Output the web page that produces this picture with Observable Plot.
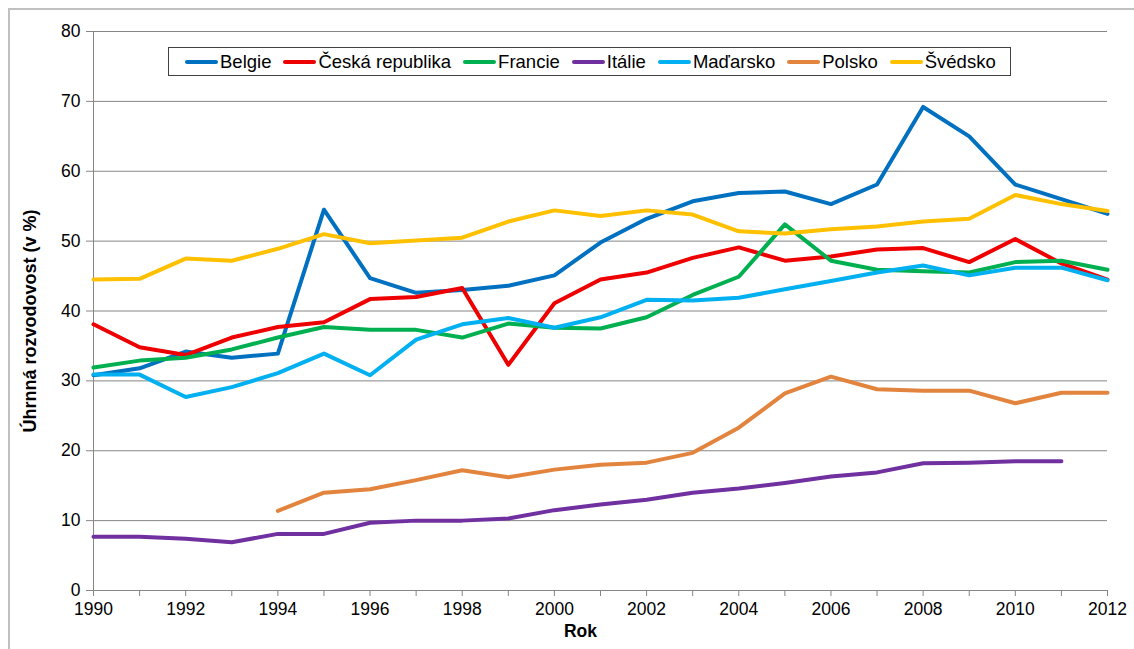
<!DOCTYPE html>
<html>
<head>
<meta charset="utf-8">
<script src="https://cdn.jsdelivr.net/npm/d3@7"></script>
<script src="https://cdn.jsdelivr.net/npm/@observablehq/plot@0.6"></script>
<style>
  html, body { margin: 0; padding: 0; background: #fff; }
  #wrap { position: relative; width: 1134px; height: 649px; overflow: hidden; font-family: "Liberation Sans", Arial, sans-serif; }
  #frame { position: absolute; left: 8px; top: 8px; width: 1200px; height: 700px; border-left: 2px solid #c0c0c0; border-top: 2px solid #c0c0c0; }
  #legend { position: absolute; left: 168px; top: 47px; width: 843px; height: 29px; border: 1.5px solid #404040; background: #fff;
            display: flex; align-items: center; font-size: 18.5px; color: #000; box-sizing: border-box; padding-left: 16px; }
  .item { display: flex; align-items: center; margin-right: 12px; white-space: nowrap; }
  .sw { width: 33px; height: 4px; border-radius: 2px; margin-right: 2px; }
  #chart { position: absolute; left: 0; top: 0; }
</style>
</head>
<body>
<div id="wrap">
  <div id="frame"></div>
  <div id="chart"></div>
  <div id="legend"></div>
</div>
<script>
const years = [1990,1991,1992,1993,1994,1995,1996,1997,1998,1999,2000,2001,2002,2003,2004,2005,2006,2007,2008,2009,2010,2011,2012];
const countries = ["Belgie","Česká republika","Francie","Itálie","Maďarsko","Polsko","Švédsko"];
const colors = ["#0070C0","#EE0000","#00B050","#7030A0","#00B0F0","#E2843E","#FFC000"];

const belgie   = [30.8,31.8,34.2,33.3,33.9,54.5,44.7,42.6,43.0,43.6,45.1,49.8,53.2,55.7,56.9,57.1,55.3,58.1,69.2,65.0,58.1,56.0,53.9];
const cesko    = [38.1,34.8,33.7,36.2,37.7,38.4,41.7,42.0,43.3,32.3,41.1,44.5,45.5,47.6,49.1,47.2,47.8,48.8,49.0,47.0,50.3,46.8,44.5];
const francie  = [31.9,32.9,33.3,34.5,36.2,37.7,37.3,37.3,36.2,38.2,37.6,37.5,39.1,42.3,44.9,52.4,47.2,45.9,45.7,45.5,47.0,47.2,45.9];
const italie   = [7.7,7.7,7.4,6.9,8.1,8.1,9.7,10.0,10.0,10.3,11.5,12.3,13.0,14.0,14.6,15.4,16.3,16.9,18.2,18.3,18.5,18.5,null];
const madarsko = [30.9,30.9,27.7,29.1,31.1,33.9,30.8,35.9,38.1,39.0,37.6,39.1,41.6,41.5,41.9,43.1,44.3,45.5,46.5,45.1,46.2,46.2,44.4];
const polsko   = [null,null,null,null,11.4,14.0,14.5,15.8,17.2,16.2,17.3,18.0,18.3,19.7,23.3,28.2,30.6,28.8,28.6,28.6,26.8,28.3,28.3];
const svedsko  = [44.5,44.6,47.5,47.2,48.9,51.0,49.7,50.1,50.5,52.8,54.4,53.6,54.4,53.8,51.4,51.1,51.7,52.1,52.8,53.2,56.6,55.3,54.3];
const yTicks = [0,10,20,30,40,50,60,70,80];
const yLabel = "Úhrnná rozvodovost (v %)";
const xLabel = "Rok";

const series = [belgie, cesko, francie, italie, madarsko, polsko, svedsko];
const rows = [];
countries.forEach((c, i) => years.forEach((y, j) => rows.push({country: c, year: y, value: series[i][j]})));

const plot = Plot.plot({
  width: 1134,
  height: 649,
  marginLeft: 93,
  marginRight: 27,
  marginTop: 31,
  marginBottom: 59,
  style: {fontFamily: "'Liberation Sans', Arial, sans-serif", fontSize: "17px", color: "#000", background: "transparent"},
  x: {domain: [1990, 2012]},
  y: {domain: [0, 80]},
  color: {domain: countries, range: colors},
  marks: [
    Plot.gridY(yTicks, {stroke: "#868686", strokeOpacity: 1, strokeWidth: 1}),
    Plot.ruleX([1990], {stroke: "#868686", strokeWidth: 1}),
    Plot.ruleY([0], {stroke: "#868686", strokeWidth: 1}),
    Plot.axisY({ticks: yTicks, tickSize: 7, tickPadding: 6, stroke: "#868686", fill: "#000", fontSize: 17.5, label: null, tickFormat: d => String(d)}),
    Plot.axisX({ticks: years, tickSize: 6, tickPadding: 6, stroke: "#868686", fill: "#000", fontSize: 17.5, label: null,
                tickFormat: d => d % 2 === 0 ? String(d) : ""}),
    Plot.line(rows, {x: "year", y: "value", z: "country", stroke: "country", strokeWidth: 4, defined: d => d.value != null, curve: "linear", strokeLinejoin: "round"}),
    Plot.text([yLabel], {frameAnchor: "left", textAnchor: "middle", dx: -63, dy: 10, rotate: -90, fontWeight: "bold", fontSize: 18, fill: "#000"}),
    Plot.text([xLabel], {frameAnchor: "bottom", dx: -20, dy: 46, fontWeight: "bold", fontSize: 17.5, fill: "#000"})
  ]
});
document.getElementById("chart").appendChild(plot);

const legend = document.getElementById("legend");
countries.forEach((c, i) => {
  const it = document.createElement("div");
  it.className = "item";
  const sw = document.createElement("div");
  sw.className = "sw";
  sw.style.background = colors[i];
  const t = document.createElement("span");
  t.textContent = c;
  it.appendChild(sw); it.appendChild(t);
  legend.appendChild(it);
});
</script>
</body>
</html>
